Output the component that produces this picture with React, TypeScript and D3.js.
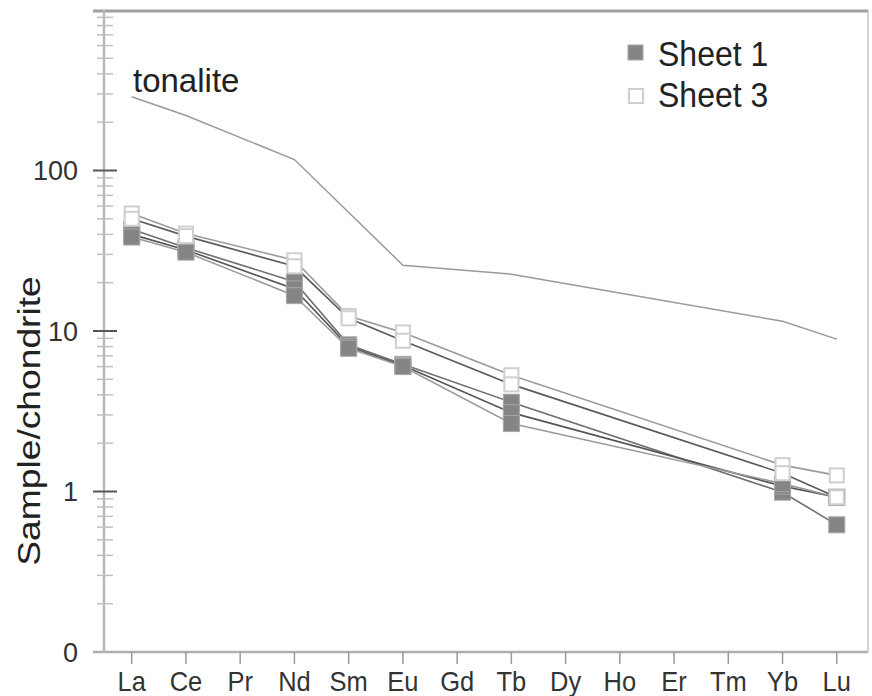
import React from 'react';
import * as d3 from 'd3';

const elements = ['La', 'Ce', 'Pr', 'Nd', 'Sm', 'Eu', 'Gd', 'Tb', 'Dy', 'Ho', 'Er', 'Tm', 'Yb', 'Lu'];

// chondrite-normalised values (null = not analysed)
const tonalite = [288, 220, null, 117, null, 25.7, null, 22.6, null, null, null, null, 11.5, 8.9];

const sheet1A = [43, 33, null, 20.3, 8.2, 6.2, null, 3.6, null, null, null, null, 0.99, 0.62];
const sheet1B = [40, 32, null, 18.3, 8.0, 6.1, null, 3.1, null, null, null, null, 1.08, 0.92];
const sheet1C = [38.5, 31, null, 16.6, 7.8, 6.0, null, 2.65, null, null, null, null, 1.12, 0.92];

const sheet3A = [54, 40.5, null, 27.6, 12.4, 9.8, null, 5.3, null, null, null, null, 1.46, 1.26];
const sheet3B = [50, 39, null, 25.3, 12.0, 8.7, null, 4.65, null, null, null, null, 1.3, 0.92];

const sheet1Series = [sheet1A, sheet1B, sheet1C];
const sheet3Series = [sheet3A, sheet3B];
const sheet1LineColors = ['#6f6f6f', '#555555', '#9a9a9a'];
const sheet3LineColors = ['#9a9a9a', '#5a5a5a'];

const yMajorValues = [0.1, 1, 10, 100];
const yMajorLabels = ['0', '1', '10', '100'];
const legendLabels = ['Sheet 1', 'Sheet 3'];
const yAxisTitle = 'Sample/chondrite';
const tonaliteLabel = 'tonalite';

const W = 872;
const H = 696;
const left = 104;
const right = 868;
const top = 10;
const bottom = 652;

export default function App() {
  const x = d3.scalePoint<string>().domain(elements).range([104.6, 863.9]).padding(0.5);
  const y = d3.scaleLog().domain([0.1, 1000]).range([bottom, top]);

  const minor: number[] = [];
  for (let d = -1; d <= 2; d++) {
    for (let k = 2; k <= 9; k++) minor.push(k * Math.pow(10, d));
  }

  const pts = (arr: (number | null)[]) =>
    arr
      .map((v, i) => ({ e: elements[i], v }))
      .filter((p) => p.v !== null) as { e: string; v: number }[];

  const line = d3
    .line<{ e: string; v: number }>()
    .x((p) => x(p.e) as number)
    .y((p) => y(p.v));

  const ms = 16;

  return (
    <svg width={W} height={H} style={{ position: 'absolute', left: 0, top: 0, background: '#fff' }}
      fontFamily="'Liberation Sans', Arial, sans-serif">
      <rect x={0} y={0} width={W} height={H} fill="#fff" />
      {/* frame */}
      <line x1={93} x2={right} y1={top + 1} y2={top + 1} stroke="#a0a0a0" strokeWidth={3} />
      <line x1={right} x2={right} y1={top} y2={bottom} stroke="#c4c4c4" strokeWidth={1.5} />
      <line x1={93} x2={right} y1={bottom} y2={bottom} stroke="#b0b0b0" strokeWidth={2.5} />
      <line x1={left} x2={left} y1={top} y2={bottom} stroke="#b8b8b8" strokeWidth={2.5} />

      {/* minor y ticks */}
      {minor.map((v) => (
        <line key={'m' + v} x1={97} x2={113} y1={y(v)} y2={y(v)} stroke="#c0c0c0" strokeWidth={1.5} />
      ))}
      {/* major y ticks */}
      {yMajorValues.map((v, i) => (
        <g key={'M' + v}>
          {v > 0.1 && <line x1={93} x2={117} y1={y(v)} y2={y(v)} stroke="#555" strokeWidth={2} />}
          <text x={78} y={y(v)} dy="0.36em" textAnchor="end" fontSize={27} fill="#333">
            {yMajorLabels[i]}
          </text>
        </g>
      ))}

      {/* x ticks */}
      {elements.map((e) => (
        <g key={e}>
          <line x1={x(e)} x2={x(e)} y1={bottom} y2={bottom + 12} stroke="#999" strokeWidth={1.5} />
          <text
            transform={`translate(${x(e)},691) scale(1,1.12)`}
            textAnchor="middle"
            fontSize={25.5}
            fill="#333"
          >
            {e}
          </text>
        </g>
      ))}

      {/* y title */}
      <text transform="translate(40,421) scale(1,1.2) rotate(-90)" textAnchor="middle" fontSize={31} fill="#222">
        {yAxisTitle}
      </text>

      {/* tonalite */}
      <path d={line(pts(tonalite)) || ''} fill="none" stroke="#9a9a9a" strokeWidth={1.5} />
      <text x={133} y={92} fontSize={33} fill="#222">
        {tonaliteLabel}
      </text>

      {/* sample lines */}
      {sheet1Series.map((s, i) => (
        <path key={'l1' + i} d={line(pts(s)) || ''} fill="none" stroke={sheet1LineColors[i]} strokeWidth={1.6} />
      ))}
      {sheet3Series.map((s, i) => (
        <path key={'l3' + i} d={line(pts(s)) || ''} fill="none" stroke={sheet3LineColors[i]} strokeWidth={1.6} />
      ))}

      {/* markers */}
      {sheet1Series.map((s, i) =>
        pts(s).map((p) => (
          <rect
            key={'f' + i + p.e}
            x={(x(p.e) as number) - ms / 2}
            y={y(p.v) - ms / 2}
            width={ms}
            height={ms}
            fill="#858585"
            stroke="#a8a8a8"
            strokeWidth={1}
          />
        ))
      )}
      {sheet3Series.map((s, i) =>
        pts(s).map((p) => (
          <rect
            key={'o' + i + p.e}
            x={(x(p.e) as number) - ms / 2 + 1}
            y={y(p.v) - ms / 2 + 1}
            width={ms - 2}
            height={ms - 2}
            fill="#fff"
            stroke="#cfcfcf"
            strokeWidth={2}
          />
        ))
      )}

      {/* legend */}
      <rect x={628} y={45} width={15} height={15} fill="#858585" stroke="#a8a8a8" strokeWidth={1} />
      <text transform="translate(658,65.5) scale(1,1.12)" fontSize={32} fill="#222">
        {legendLabels[0]}
      </text>
      <rect x={629} y={89} width={14} height={14} fill="#fff" stroke="#cfcfcf" strokeWidth={2} />
      <text transform="translate(658,106.5) scale(1,1.12)" fontSize={32} fill="#222">
        {legendLabels[1]}
      </text>
    </svg>
  );
}
